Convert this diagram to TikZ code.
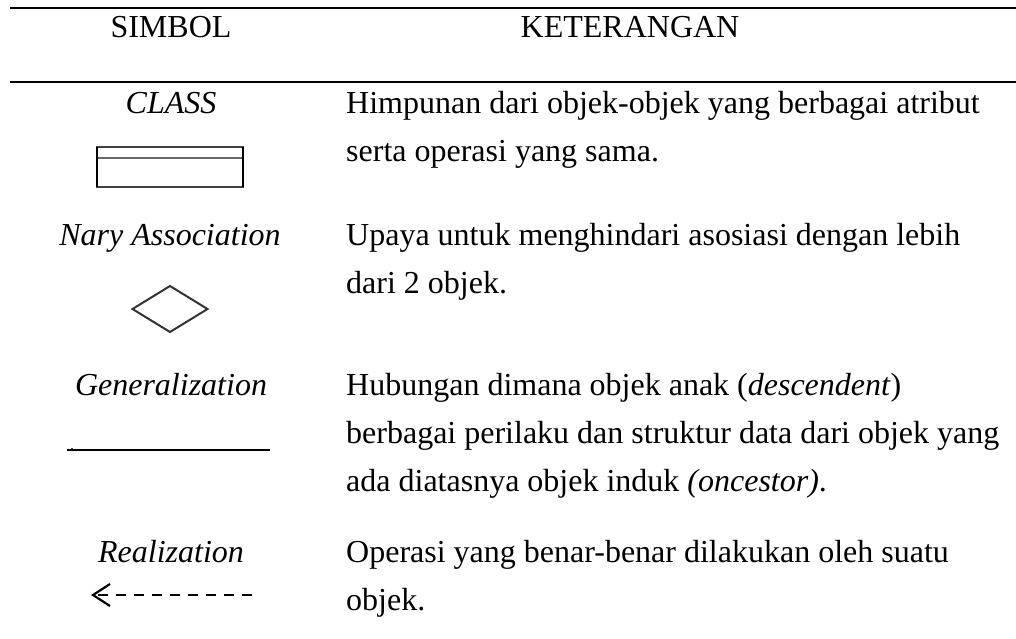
\documentclass[tikz,border=0pt]{standalone}
\usepackage{fontspec}
\setmainfont{Liberation Serif}
\begin{document}
\begin{tikzpicture}[x=1pt,y=-1pt,
  txt/.style={inner sep=0pt, font=\fontsize{32}{38}\selectfont},
  head/.style={txt, anchor=base},
  symname/.style={txt, anchor=base, font=\fontsize{32}{38}\selectfont\itshape},
  desc/.style={txt, anchor=base west},
  tablerule/.style={line width=2pt, black},
  symline/.style={line width=1.6pt, black}
]
\useasboundingbox (0,0) rectangle (1016,638);

% table rules
\coordinate (r1l) at (10,8);    \coordinate (r1r) at (1016,8);
\coordinate (r2l) at (10,82);   \coordinate (r2r) at (1016,82);
\draw[tablerule] (r1l) -- (r1r);
\draw[tablerule] (r2l) -- (r2r);

% header
\node[head] (hsym) at (171,37) {SIMBOL};
\node[head] (hket) at (630,37) {KETERANGAN};

% class
\node[symname] (lclass) at (171,113) {CLASS};
\node[desc] (d1a) at (346,113) {Himpunan dari objek-objek yang berbagai atribut};
\node[desc] (d1b) at (346,161) {serta operasi yang sama.};
\draw[line width=1.1pt, black!75] (97,147) rectangle (243,187);
\draw[line width=1.2pt, black!60] (97,158) -- (243,158);
\draw[line width=2.2pt] (97,147) -- (97,187) (243,147) -- (243,187);

% n-ary association
\node[symname] (lnary) at (170,245) {Nary Association};
\node[desc] (d2a) at (346,245) {Upaya untuk menghindari asosiasi dengan lebih};
\node[desc] (d2b) at (346,293) {dari 2 objek.};
\draw[line width=2pt, black!80, line join=miter] (132.5,309) -- (170,286) -- (207.5,309) -- (170,332) -- cycle;

% generalization
\node[symname] (lgen) at (171,395) {Generalization};
\node[desc] (d3a) at (346,395) {Hubungan dimana objek anak (\textit{descendent})};
\node[desc] (d3b) at (346,443) {berbagai perilaku dan struktur data dari objek yang};
\node[desc] (d3c) at (346,491) {ada diatasnya objek induk \textit{(oncestor)}.};
\coordinate (g1) at (67,450);
\coordinate (g2) at (270,450);
\draw[symline] (g1) -- (g2);
\fill (72,449) circle (1.1pt);

% realization
\node[symname] (lreal) at (171,562) {Realization};
\node[desc] (d4a) at (346,562) {Operasi yang benar-benar dilakukan oleh suatu};
\node[desc] (d4b) at (346,610) {objek.};
\coordinate (rtip) at (93,595);
\coordinate (rend) at (252,595);
\draw[line width=2.6pt, dash pattern=on 10pt off 8pt, dash phase=0pt] (rend) -- (rtip);
\draw[line width=2.2pt, line join=miter] (110,584) -- (rtip) -- (110,606);
\end{tikzpicture}
\end{document}
